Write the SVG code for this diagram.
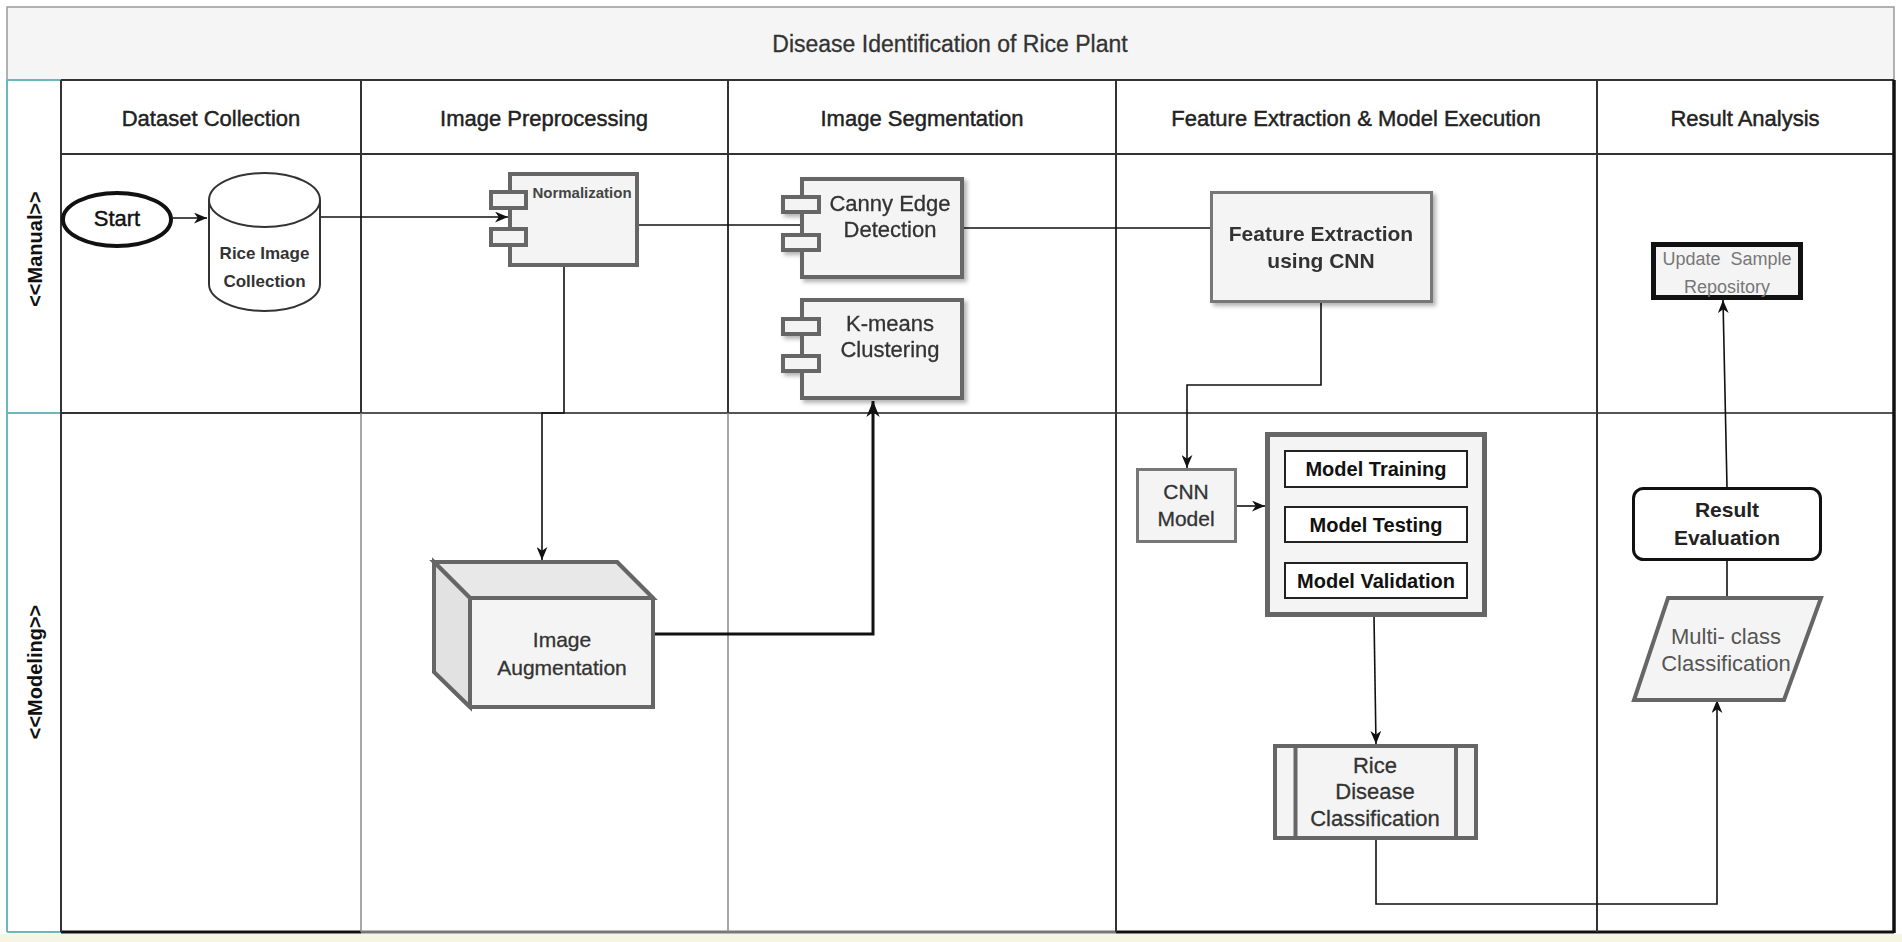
<svg xmlns="http://www.w3.org/2000/svg" width="1902" height="942" viewBox="0 0 1902 942">
<defs>
<style>
text{font-family:"Liberation Sans",Arial,sans-serif;}
.hdr{font-size:22px;fill:#222;text-anchor:middle;stroke:#222;stroke-width:0.45;}
.lane{font-size:20px;font-weight:bold;fill:#111;text-anchor:middle;}
.lbl{font-size:21px;fill:#333;text-anchor:middle;stroke:#333;stroke-width:0.3;}
.bold{font-weight:bold;stroke-width:0;}
.grid{stroke:#333;stroke-width:2;fill:none;}
.gridl{stroke:#888;stroke-width:1.5;fill:none;}
.teal{stroke:#6bb7be;stroke-width:2;fill:none;}
.comp{fill:#f4f4f4;stroke:#666;stroke-width:4;}
.gbox{fill:#f4f4f4;stroke:#777;stroke-width:3;}
.inner{fill:#fff;stroke:#222;stroke-width:2;}
.conn{fill:none;stroke:#111;stroke-width:1.6;}
</style>
<marker id="arr" viewBox="0 0 12 10" refX="12" refY="5" markerWidth="13" markerHeight="11" markerUnits="userSpaceOnUse" orient="auto">
<path d="M0,0 L12,5 L0,10 L3.5,5 Z" fill="#111"/>
</marker>
<marker id="arrBig" viewBox="0 0 12 10" refX="12" refY="5" markerWidth="16" markerHeight="14" markerUnits="userSpaceOnUse" orient="auto">
<path d="M0,0 L12,5 L0,10 L3.5,5 Z" fill="#111"/>
</marker>
<filter id="shadow" x="-10%" y="-10%" width="130%" height="130%">
<feDropShadow dx="3" dy="3" stdDeviation="2" flood-color="#000" flood-opacity="0.3"/>
</filter>
</defs>

<rect x="0" y="0" width="1902" height="942" fill="#fff"/>
<rect x="0" y="934" width="1902" height="8" fill="#f5f5e3"/>

<g id="pool">
<rect x="7" y="7" width="1887" height="73" fill="#f5f5f5" stroke="#999" stroke-width="1.5"/>
<text x="950" y="52" style="font-size:23px;fill:#333;text-anchor:middle;stroke:#333;stroke-width:0.3;">Disease Identification of Rice Plant</text>
<line class="teal" x1="7" y1="80" x2="7" y2="932"/>
<line class="teal" x1="7" y1="80" x2="61" y2="80"/>
<line class="teal" x1="7" y1="413" x2="61" y2="413"/>
<line class="teal" x1="7" y1="932" x2="61" y2="932"/>
<line class="grid" x1="61" y1="80" x2="1894" y2="80"/>
<line class="grid" x1="61" y1="154" x2="1894" y2="154"/>
<line class="grid" x1="61" y1="413" x2="361" y2="413"/>
<line x1="361" y1="413" x2="1894" y2="413" stroke="#555" stroke-width="1.8"/>
<line x1="61" y1="932" x2="361" y2="932" stroke="#111" stroke-width="3"/>
<line x1="361" y1="932" x2="1116" y2="932" stroke="#777" stroke-width="3"/>
<line x1="1116" y1="932" x2="1894" y2="932" stroke="#111" stroke-width="3"/>
<line class="grid" x1="61" y1="80" x2="61" y2="932"/>
<line class="grid" x1="361" y1="80" x2="361" y2="413"/>
<line class="gridl" x1="361" y1="413" x2="361" y2="932"/>
<line class="grid" x1="728" y1="80" x2="728" y2="413"/>
<line class="gridl" x1="728" y1="413" x2="728" y2="932"/>
<line class="grid" x1="1116" y1="80" x2="1116" y2="932"/>
<line class="grid" x1="1597" y1="80" x2="1597" y2="932"/>
<line x1="1894" y1="80" x2="1894" y2="933" stroke="#111" stroke-width="3.5"/>
<text class="hdr" x="211" y="126">Dataset Collection</text>
<text class="hdr" x="544" y="126">Image Preprocessing</text>
<text class="hdr" x="922" y="126">Image Segmentation</text>
<text class="hdr" x="1356" y="126">Feature Extraction &amp; Model Execution</text>
<text class="hdr" x="1745" y="126">Result Analysis</text>
<text class="lane" transform="translate(35,249) rotate(-90)" x="0" y="7">&lt;&lt;Manual&gt;&gt;</text>
<text class="lane" transform="translate(35,672) rotate(-90)" x="0" y="7">&lt;&lt;Modeling&gt;&gt;</text>
</g>

<g id="connectors">
<path class="conn" d="M173,218 H207" marker-end="url(#arr)"/>
<path class="conn" d="M321,217 H508" marker-end="url(#arr)"/>
<path class="conn" d="M637,225 H802"/>
<path class="conn" d="M564,267 V413 H542 V560" marker-end="url(#arr)"/>
<path d="M655,634 H873 V401" fill="none" stroke="#111" stroke-width="3" marker-end="url(#arrBig)"/>
<path class="conn" d="M962,228 H1211"/>
<path class="conn" d="M1321,303 V385 H1187 V468" marker-end="url(#arr)"/>
<path class="conn" d="M1237,506 H1265" marker-end="url(#arr)"/>
<path class="conn" d="M1374,617 L1376,744" marker-end="url(#arr)"/>
<path class="conn" d="M1376,840 V904 H1717 V700" marker-end="url(#arr)"/>
<path class="conn" d="M1727,598 V561"/>
<path class="conn" d="M1727,487 L1723,300" marker-end="url(#arr)"/>
</g>

<g id="start">
<ellipse cx="117" cy="219.5" rx="54" ry="26.5" fill="#fff" stroke="#111" stroke-width="4"/>
<text x="117" y="226" style="font-size:22px;fill:#111;text-anchor:middle;stroke:#111;stroke-width:0.4;">Start</text>
</g>

<g id="rice-image-collection">
<path d="M209,200 A55.5,27 0 0 1 320,200 V284 A55.5,27 0 0 1 209,284 Z" fill="#fff" stroke="#333" stroke-width="2"/>
<path d="M209,200 A55.5,27 0 0 0 320,200" fill="none" stroke="#333" stroke-width="2"/>
<text x="264.5" y="259" style="font-size:17px;font-weight:bold;fill:#333;text-anchor:middle;">Rice Image</text>
<text x="264.5" y="287" style="font-size:17px;font-weight:bold;fill:#333;text-anchor:middle;">Collection</text>
</g>

<g id="normalization">
<rect class="comp" x="510" y="174" width="127" height="91"/>
<rect class="comp" x="491" y="192" width="35" height="16"/>
<rect class="comp" x="491" y="229" width="35" height="16"/>
<text x="582" y="198" style="font-size:15px;font-weight:bold;fill:#444;text-anchor:middle;">Normalization</text>
</g>

<g id="canny" filter="url(#shadow)">
<rect class="comp" x="802" y="179" width="160" height="98"/>
<rect class="comp" x="783" y="197" width="36" height="15"/>
<rect class="comp" x="783" y="235" width="36" height="15"/>
<text class="lbl" x="890" y="211" style="font-size:22px;">Canny Edge</text>
<text class="lbl" x="890" y="237" style="font-size:22px;">Detection</text>
</g>

<g id="kmeans" filter="url(#shadow)">
<rect class="comp" x="802" y="300" width="160" height="98"/>
<rect class="comp" x="783" y="319" width="36" height="15"/>
<rect class="comp" x="783" y="356" width="36" height="15"/>
<text class="lbl" x="890" y="331" style="font-size:22px;">K-means</text>
<text class="lbl" x="890" y="357" style="font-size:22px;">Clustering</text>
</g>

<g id="image-augmentation">
<path d="M434,562 H617 L653,598 V707 H470 L434,672 Z" fill="#f4f4f4" stroke="#666" stroke-width="4" stroke-linejoin="miter"/>
<path d="M434,562 H617 L653,598 H470 Z" fill="#e8e8e8" stroke="#666" stroke-width="4"/>
<path d="M434,562 L470,598 V707 L434,672 Z" fill="#e2e2e2" stroke="#666" stroke-width="4"/>
<text class="lbl" x="562" y="647">Image</text>
<text class="lbl" x="562" y="675">Augmentation</text>
</g>

<g id="feature-extraction" filter="url(#shadow)">
<rect class="gbox" x="1211.5" y="192.5" width="220" height="109"/>
<text class="lbl bold" x="1321" y="241" style="font-size:21px;">Feature Extraction</text>
<text class="lbl bold" x="1321" y="268" style="font-size:21px;">using CNN</text>
</g>

<g id="cnn-model">
<rect class="gbox" x="1137.5" y="469.5" width="98" height="72"/>
<text class="lbl" x="1186" y="499">CNN</text>
<text class="lbl" x="1186" y="526">Model</text>
</g>

<g id="model-steps">
<rect x="1267.5" y="434.5" width="217" height="180" fill="#f4f4f4" stroke="#666" stroke-width="5"/>
<rect class="inner" x="1285" y="451" width="182" height="36"/>
<rect class="inner" x="1285" y="507" width="182" height="35"/>
<rect class="inner" x="1285" y="563" width="182" height="35"/>
<text x="1376" y="476" style="font-size:20px;font-weight:bold;fill:#111;text-anchor:middle;">Model Training</text>
<text x="1376" y="532" style="font-size:20px;font-weight:bold;fill:#111;text-anchor:middle;">Model Testing</text>
<text x="1376" y="588" style="font-size:20px;font-weight:bold;fill:#111;text-anchor:middle;">Model Validation</text>
</g>

<g id="rice-disease-classification">
<rect class="comp" x="1275" y="746" width="201" height="92"/>
<line x1="1295.5" y1="746" x2="1295.5" y2="838" stroke="#666" stroke-width="4"/>
<line x1="1456" y1="746" x2="1456" y2="838" stroke="#666" stroke-width="4"/>
<text class="lbl" x="1375" y="773" style="font-size:22px;">Rice</text>
<text class="lbl" x="1375" y="799" style="font-size:22px;">Disease</text>
<text class="lbl" x="1375" y="826" style="font-size:22px;">Classification</text>
</g>

<g id="update-sample-repository">
<rect x="1653.5" y="244.5" width="147" height="53" fill="#f4f4f4" stroke="#111" stroke-width="5"/>
<text x="1727" y="265" xml:space="preserve" style="font-size:18px;fill:#777;text-anchor:middle;">Update  Sample</text>
<text x="1727" y="293" style="font-size:18px;fill:#777;text-anchor:middle;">Repository</text>
</g>

<g id="result-evaluation">
<rect x="1633.5" y="488.5" width="187" height="71" rx="10" fill="#fff" stroke="#111" stroke-width="3"/>
<text x="1727" y="517" style="font-size:21px;font-weight:bold;fill:#222;text-anchor:middle;">Result</text>
<text x="1727" y="545" style="font-size:21px;font-weight:bold;fill:#222;text-anchor:middle;">Evaluation</text>
</g>

<g id="multi-class-classification">
<path d="M1668,598 H1821 L1784,700 H1634 Z" fill="#f4f4f4" stroke="#666" stroke-width="4"/>
<text x="1726" y="644" style="font-size:22px;fill:#555;text-anchor:middle;">Multi- class</text>
<text x="1726" y="671" style="font-size:22px;fill:#555;text-anchor:middle;">Classification</text>
</g>
</svg>
